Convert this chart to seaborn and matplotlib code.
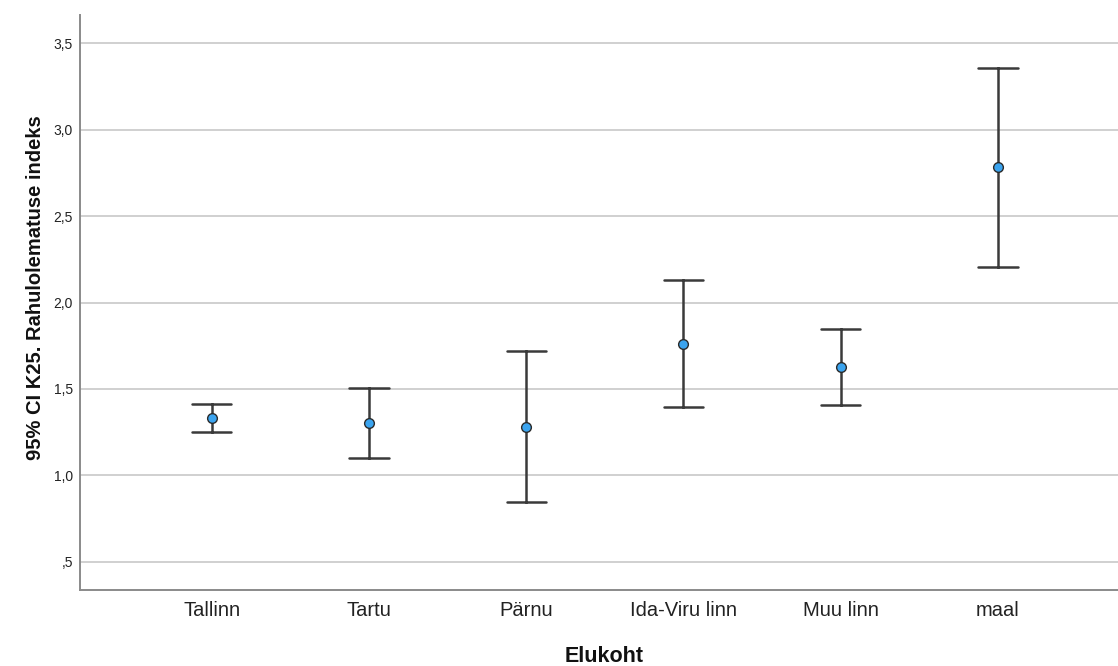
import numpy as np
import pandas as pd
import matplotlib
matplotlib.use("Agg")
import matplotlib.pyplot as plt
import seaborn as sns

# values (mean with 95% CI)
places = ["Tallinn", "Tartu", "Pärnu", "Ida-Viru linn", "Muu linn", "maal"]
means = [1.331, 1.301, 1.281, 1.762, 1.627, 2.782]
ci_low = [1.249, 1.102, 0.847, 1.395, 1.406, 2.205]
ci_high = [1.414, 1.503, 1.717, 2.133, 1.849, 3.359]

y_ticks = [0.5, 1.0, 1.5, 2.0, 2.5, 3.0, 3.5]
y_tick_labels = [",5", "1,0", "1,5", "2,0", "2,5", "3,0", "3,5"]

# long table: lower / mean / upper per place, so pointplot can draw the CI
rows = []
for p, lo, m, hi in zip(places, ci_low, means, ci_high):
    for v in (lo, m, hi):
        rows.append({"Elukoht": p, "value": v})
df = pd.DataFrame(rows)

sns.set_style("white")
plt.rcParams["font.family"] = ["Liberation Sans", "DejaVu Sans"]

fig = plt.figure(figsize=(11.18, 6.66), dpi=100)
ax = fig.add_axes([80 / 1118, 1 - 590 / 666, 1 - 80 / 1118, (590 - 15) / 666])

sns.pointplot(
    data=df, x="Elukoht", y="value", order=places,
    estimator=np.median, errorbar=lambda v: (v.min(), v.max()),
    linestyle="none", capsize=0.25, color="#3a3a3a",
    marker="o", markersize=7, markerfacecolor="#3ba4ef",
    markeredgecolor="#2a2a2a", markeredgewidth=1.0,
    err_kws={"color": "#3a3a3a", "linewidth": 1.8},
    ax=ax,
)

# bring markers above the error bars
for line in ax.lines:
    if line.get_marker() == "o":
        line.set_zorder(5)

ax.set_ylim(0.336, 3.664)
ax.set_xlim(-0.8375, 5.763)
ax.set_yticks(y_ticks)
ax.set_yticklabels(y_tick_labels, fontsize=10, color="#222222")
ax.tick_params(axis="x", labelsize=14.5, length=0, pad=8, colors="#222222")
ax.tick_params(axis="y", length=0, pad=5)

ax.grid(axis="y", color="#d0d0d0", linewidth=1.4)
ax.set_axisbelow(True)

for side in ["top", "right"]:
    ax.spines[side].set_visible(False)
for side in ["left", "bottom"]:
    ax.spines[side].set_color("#8a8a8a")
    ax.spines[side].set_linewidth(1.4)

ax.set_xlabel("Elukoht", fontsize=15.5, fontweight="bold", color="#111111")
ax.set_ylabel("95% CI K25. Rahulolematuse indeks", fontsize=14.5,
              fontweight="bold", color="#111111")
ax.xaxis.set_label_coords(0.505, -0.1165)
ax.xaxis.label.set_va("center")
ax.yaxis.set_label_coords(-0.0424, 0.525)
ax.yaxis.label.set_va("center")

fig.savefig("out.png", dpi=100)
